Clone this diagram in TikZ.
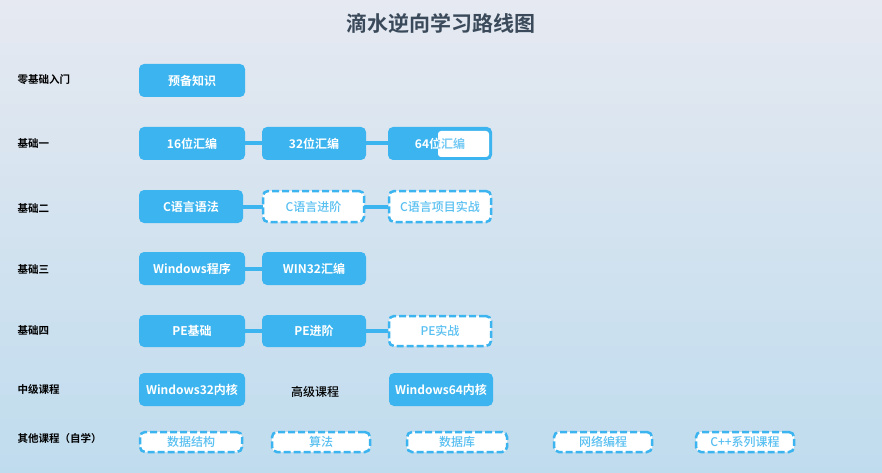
\documentclass[tikz,border=0pt]{standalone}
\usepackage{fontspec}
\setmainfont{Noto Sans CJK SC}
\newfontfamily\cjkb{Noto Sans CJK SC Bold}
\newfontfamily\cjkm{Noto Sans CJK SC Medium}
\definecolor{bx}{HTML}{3BB4EF}
\definecolor{ttl}{HTML}{3A4A5A}
\definecolor{bgt}{HTML}{E6E9F1}
\definecolor{bgb}{HTML}{BFDCEE}
\begin{document}
\begin{tikzpicture}[x=1pt,y=-1pt,
 solid box/.style={fill=bx,rounded corners=5pt,text=white,font=\cjkb\fontsize{12}{13}\selectfont},
 dash box/.style={fill=white,draw=bx,line width=2.5pt,dash pattern=on 7pt off 3pt,rounded corners=5pt,text=bx!85,font=\cjkm\fontsize{12}{13}\selectfont},
 lbl/.style={anchor=west,font=\cjkb\fontsize{10.5}{12}\selectfont,text=black},
 conn/.style={draw=bx,line width=4pt}]
\shade[top color=bgt,bottom color=bgb] (0,0) rectangle (882,473);
\useasboundingbox (0,0) rectangle (882,473);
\node[font=\cjkb\fontsize{21}{24}\selectfont,text=ttl] (title) at (441,23) {滴水逆向学习路线图};
% labels
\node[lbl] (l1) at (14,80) {零基础入门};
\node[lbl] (l2) at (14,143) {基础一};
\node[lbl] (l3) at (14,208) {基础二};
\node[lbl] (l4) at (14,269) {基础三};
\node[lbl] (l5) at (14,330) {基础四};
\node[lbl] (l6) at (14,389) {中级课程};
\node[lbl] (l7) at (14,439) {其他课程（自学）};
\newcommand{\bx}[6]{\node[#1,minimum width=#4pt,minimum height=#5pt,inner sep=0pt] (#2) at #3 {#6};}
% row1
\bx{solid box}{a1}{(192,80.5)}{106}{33}{预备知识}
% row2
\draw[conn] (245,143.5) -- (388,143.5);
\bx{solid box}{b1}{(192,143.5)}{106}{33}{16位汇编}
\bx{solid box}{b2}{(314,143.5)}{104}{33}{32位汇编}
\node[fill=bx,rounded corners=5pt,minimum width=104pt,minimum height=33pt,inner sep=0pt] (b3) at (440,143.5) {};
\fill[white,rounded corners=3pt] (438,131) rectangle (489,157);
\node[text=white,font=\cjkb\fontsize{12}{13}\selectfont] (b3t) at (440,143.5) {64位汇编};
\begin{scope}
\clip (438,131) rectangle (489,157);
\node[text=bx!70,font=\cjkb\fontsize{12}{13}\selectfont] (b3u) at (440,143.5) {64位汇编};
\end{scope}
% row3
\draw[conn] (243,206.5) -- (388,206.5);
\bx{solid box}{c1}{(191,206.5)}{104}{33}{C语言语法}
\bx{dash box}{c2}{(313.5,206.5)}{101}{31}{C语言进阶}
\bx{dash box}{c3}{(440,206.5)}{102}{31}{C语言项目实战}
% row4
\draw[conn] (245,268.5) -- (262,268.5);
\bx{solid box}{d1}{(192,268.5)}{106}{33}{Windows程序}
\bx{solid box}{d2}{(314,268.5)}{104}{33}{WIN32汇编}
% row5
\draw[conn] (245,331) -- (388,331);
\bx{solid box}{e1}{(192,331)}{106}{32}{PE基础}
\bx{solid box}{e2}{(314,331)}{104}{32}{PE进阶}
\bx{dash box}{e3}{(440,331)}{102}{30}{PE实战}
% row6
\bx{solid box}{f1}{(192,389.5)}{106}{33}{Windows32内核}
\node[font=\cjkm\fontsize{12}{13}\selectfont] (f2) at (315,392) {高级课程};
\bx{solid box}{f3}{(441,389.5)}{104}{33}{Windows64内核}
% row7
\bx{dash box}{g1}{(191,442)}{102}{20}{数据结构}
\bx{dash box}{g2}{(321,442)}{98}{20}{算法}
\bx{dash box}{g3}{(457,442)}{100}{20}{数据库}
\bx{dash box}{g4}{(603,442)}{98}{20}{网络编程}
\bx{dash box}{g5}{(745,442)}{98}{20}{C++系列课程}
\end{tikzpicture}
\end{document}
